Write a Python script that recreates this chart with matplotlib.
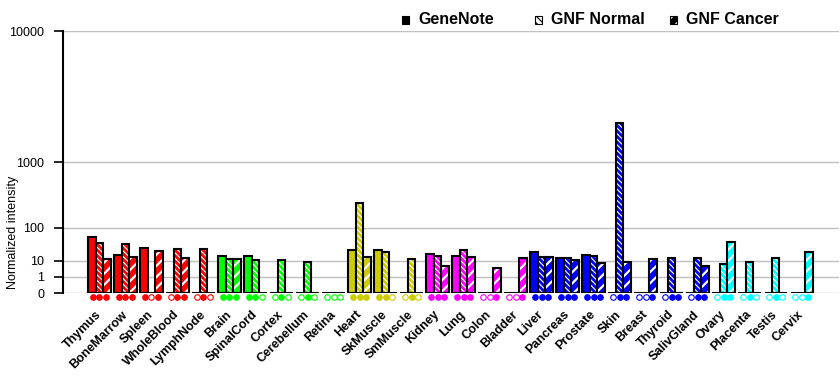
import numpy as np
import matplotlib
matplotlib.use("Agg")
import matplotlib.pyplot as plt
import matplotlib.transforms as mtransforms
from matplotlib.patches import Rectangle

plt.rcParams["font.family"] = ["Liberation Sans", "DejaVu Sans"]

# tissues and their colour group
tissues = ["Thymus", "BoneMarrow", "Spleen", "WholeBlood", "LymphNode",
           "Brain", "SpinalCord", "Cortex", "Cerebellum", "Retina",
           "Heart", "SkMuscle", "SmMuscle",
           "Kidney", "Lung", "Colon", "Bladder",
           "Liver", "Pancreas", "Prostate", "Skin", "Breast", "Thyroid", "SalivGland",
           "Ovary", "Placenta", "Testis", "Cervix"]
group_colors = (["#ff0000"] * 5 + ["#00ff00"] * 5 + ["#cccc00"] * 3 +
                ["#ff00ff"] * 4 + ["#0000ff"] * 7 + ["#00ffff"] * 4)

# normalized intensity per source (None = no data)
genenote = [60, 17, 30, None, None, 16, 16, None, None, None, 26, 26, None,
            19, 15, None, None, 22, 13, 17, None, None, None, None,
            None, None, None, None]
gnf_normal = [42, 40, None, 28, 27, 12, 11, 10.7, 8.3, None, 290, 21, 12,
              16, 26, None, None, 14.5, 13, 16, 2400, None, 13, 13,
              7, 8.3, 13, None]
gnf_cancer = [12, 14.5, 24, 13, None, 12, None, None, None, None, 14.5, None, None,
              5.7, 14, 4.4, 13, 14.5, 11, 7.5, 8.3, 12, 0, 5.7,
              45, None, None, 22]

# label, values, hatch, hatch line width
series = [("GeneNote", genenote, None, 0),
          ("GNF Normal", gnf_normal, "\\" * 6, 0.8),
          ("GNF Cancer", gnf_cancer, "///", 1.6)]

P = np.log10(2)


def fwd(v):
    v = np.asarray(v, dtype=float)
    return np.sign(v) * np.abs(v) ** P


def inv(y):
    y = np.asarray(y, dtype=float)
    return np.sign(y) * np.abs(y) ** (1 / P)


fig = plt.figure(figsize=(8.4, 3.85), dpi=100)
ax = fig.add_axes([0.075, 0.2382, 0.924, 0.6805])
ax.set_yscale("function", functions=(fwd, inv))
ax.set_ylim(0, 10000)
ax.set_xlim(-1.4, 28.44)

x = np.arange(len(tissues))
width = 0.29
offsets = [-width, 0, width]
mark_off = [-0.26, 0, 0.26]
trans = mtransforms.blended_transform_factory(ax.transData, ax.transAxes)

for i, name in enumerate(tissues):
    c = group_colors[i]
    ax.plot([i - 0.43, i + 0.43], [0, 0], color="black", lw=1.5, zorder=3,
            solid_capstyle="butt")
    for k, (label, vals, hatch, hlw) in enumerate(series):
        v = vals[i]
        xx = i + offsets[k]
        if v is not None:
            if hatch is None:
                ax.bar(xx, v, width, color=c, edgecolor="black", linewidth=1.5, zorder=2)
            else:
                with plt.rc_context({"hatch.linewidth": hlw}):
                    ax.bar(xx, v, width, color=c, edgecolor="white", hatch=hatch,
                           linewidth=0, zorder=2)
                ax.bar(xx, v, width, fill=False, edgecolor="black", linewidth=1.5, zorder=2)
        ax.plot(i + mark_off[k], -0.016, marker="o", ms=4.0, transform=trans,
                clip_on=False, color=c, mec=c, mew=0.8,
                mfc=c if v is not None else "white", zorder=4)

ax.set_yticks([0, 1, 10, 100, 1000, 10000])
ax.set_yticklabels(["0", "1", "10", "100", "1000", "10000"], fontsize=9)
ax.yaxis.grid(True, color="#c0c0c0", lw=1)
ax.set_axisbelow(True)
ax.tick_params(axis="y", length=6.5, width=1.2, pad=7, colors="black")
ax.minorticks_off()
ax.set_xticks(x)
ax.set_xticklabels(tissues, rotation=45, ha="right", va="center",
                   rotation_mode="anchor", fontsize=9, fontweight="bold")
ax.tick_params(axis="x", length=0, pad=14)
for s in ["top", "right", "bottom"]:
    ax.spines[s].set_visible(False)
ax.spines["left"].set_linewidth(1.5)

fig.text(13 / 840, 1 - 232 / 385, "Normalized intensity", rotation=90,
         ha="center", va="center", fontsize=9)

# legend row at the top
legend_items = [(402, "GeneNote", "black", None, "black", 0),
                (535, "GNF Normal", "white", "\\" * 5, "black", 0.8),
                (670, "GNF Cancer", "black", "///", "white", 1.2)]
yc = 1 - 20 / 385
for px, label, fc, hatch, hc, hlw in legend_items:
    with plt.rc_context({"hatch.linewidth": max(hlw, 0.5)}):
        r = Rectangle((px / 840, yc - 3.5 / 385), 7 / 840, 7 / 385,
                      transform=fig.transFigure,
                      facecolor=fc, edgecolor=hc, hatch=hatch, linewidth=0)
    fig.add_artist(r)
    fig.add_artist(Rectangle((px / 840, yc - 3.5 / 385), 7 / 840, 7 / 385,
                             transform=fig.transFigure, fill=False,
                             edgecolor="black", linewidth=0.8))
    fig.text((px + 16) / 840, yc, label, ha="left", va="center",
             fontsize=11.5, fontweight="bold")

fig.savefig("out.png", dpi=100)
